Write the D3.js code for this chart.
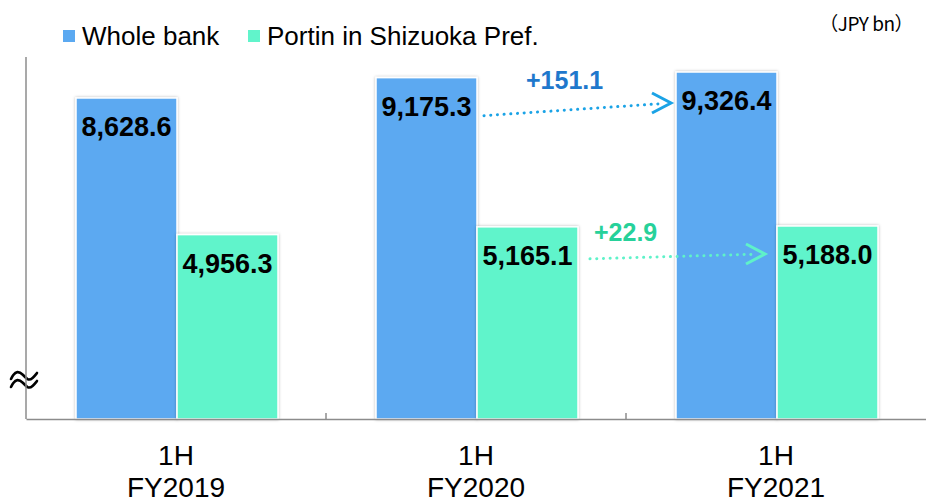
<!DOCTYPE html>
<html>
<head>
<meta charset="utf-8">
<script src="https://cdn.jsdelivr.net/npm/d3@7"></script>
<style>
  body { margin: 0; background: #fff; }
  svg { display: block; font-family: "Liberation Sans", Arial, sans-serif; }
</style>
</head>
<body>
<svg id="chart" width="926" height="500"></svg>
<script>
// data
var periods = ["FY2019", "FY2020", "FY2021"];
var periodTop = ["1H", "1H", "1H"];
var seriesNames = ["Whole bank", "Portin in Shizuoka Pref."];
var wholeBank = [8628.6, 9175.3, 9326.4];
var portin = [4956.3, 5165.1, 5188.0];
var unitLabel = "（JPY bn）";

var colors = ["#5ba9f1", "#61f4cb"];
var arrowColors = ["#1ba3e6", "#5ff2c9"];
var diffColors = ["#1f78cc", "#27d19a"];

var svg = d3.select("#chart");
var fmt = d3.format(",.1f");

// shadow for bars
var defs = svg.append("defs");
defs.append("filter")
    .attr("id", "shadow")
    .attr("x", "-10%").attr("y", "-10%")
    .attr("width", "120%").attr("height", "120%")
  .append("feDropShadow")
    .attr("dx", 0).attr("dy", 0)
    .attr("stdDeviation", 1.6)
    .attr("flood-color", "#000")
    .attr("flood-opacity", 0.28);

var x0 = d3.scaleBand().domain(periods).range([26, 926]);
var x1 = d3.scaleBand().domain([0, 1]).range([50, 252]);
var y = d3.scaleLinear().domain([0, 9730]).range([419, 57]);

var rows = periods.map(function (p, i) {
  return { period: p, values: [wholeBank[i], portin[i]] };
});

// axis break mark (drawn under the axis line)
var wave = d3.line().curve(d3.curveBasis);
[0, 8].forEach(function (off) {
  svg.append("path")
      .attr("d", wave([[11, 379 + off], [13, 375 + off], [17, 371 + off], [23, 374 + off],
                       [28, 381 + off], [33, 378 + off], [37, 373 + off]]))
      .attr("fill", "none")
      .attr("stroke", "#000")
      .attr("stroke-width", 2.6)
      .attr("stroke-linecap", "round");
});

// bars
var groups = svg.append("g").selectAll("g")
    .data(rows)
  .enter().append("g")
    .attr("transform", function (d) { return "translate(" + x0(d.period) + ",0)"; });

groups.selectAll("rect")
    .data(function (d) { return d.values.map(function (v, k) { return { k: k, v: v }; }); })
  .enter().append("rect")
    .attr("x", function (d) { return x1(d.k); })
    .attr("y", function (d) { return y(d.v); })
    .attr("width", x1.bandwidth())
    .attr("height", function (d) { return y(0) - y(d.v); })
    .attr("fill", function (d) { return colors[d.k]; })
    .attr("stroke", "#fff")
    .attr("stroke-width", 1.5)
    .attr("filter", "url(#shadow)");

groups.selectAll("text.val")
    .data(function (d) { return d.values.map(function (v, k) { return { k: k, v: v }; }); })
  .enter().append("text")
    .attr("class", "val")
    .attr("x", function (d) { return x1(d.k) + x1.bandwidth() / 2; })
    .attr("y", function (d) { return y(d.v) + 38; })
    .attr("text-anchor", "middle")
    .attr("font-size", 27)
    .attr("font-weight", "bold")
    .attr("fill", "#000")
    .text(function (d) { return fmt(d.v); });

// axes
var axisColor = "#8c8c8c";
svg.append("line")
    .attr("x1", 26).attr("x2", 26)
    .attr("y1", y.range()[1]).attr("y2", y(0))
    .attr("stroke", axisColor).attr("stroke-width", 1.5);

var xAxis = svg.append("g")
    .attr("transform", "translate(0," + y(0) + ")")
    .call(d3.axisBottom(x0).tickValues([]).tickSizeOuter(0));
xAxis.select(".domain").attr("stroke", axisColor).attr("stroke-width", 1.5);

// boundary ticks between periods
svg.append("g").selectAll("line")
    .data(periods.slice(1))
  .enter().append("line")
    .attr("x1", function (d) { return x0(d); })
    .attr("x2", function (d) { return x0(d); })
    .attr("y1", y(0) - 6).attr("y2", y(0))
    .attr("stroke", axisColor).attr("stroke-width", 1.5);

// category labels
var cat = svg.append("g").selectAll("text")
    .data(periods)
  .enter().append("text")
    .attr("x", function (d) { return x0(d) + x0.bandwidth() / 2; })
    .attr("text-anchor", "middle")
    .attr("font-size", 28)
    .attr("fill", "#000");
cat.append("tspan")
    .attr("x", function (d) { return x0(d) + x0.bandwidth() / 2; })
    .attr("y", 465)
    .text(function (d, i) { return periodTop[i]; });
cat.append("tspan")
    .attr("x", function (d) { return x0(d) + x0.bandwidth() / 2; })
    .attr("y", 497)
    .text(function (d) { return d; });

// change arrows, FY2020 -> FY2021
var from = periods[1], to = periods[2];
var arrowSpec = [
  { k: 0, v0: wholeBank[1], v1: wholeBank[2], dx0: 7, dx1: -5, dy0: 38, dy1: 31, lx: 42, ly: -27 },
  { k: 1, v0: portin[1], v1: portin[2], dx0: 12, dx1: -12, dy0: 32, dy1: 28, lx: 4, ly: -18 }
];
arrowSpec.forEach(function (a) {
  var xs = x0(from) + x1(a.k) + x1.bandwidth() + a.dx0;
  var xe = x0(to) + x1(a.k) + a.dx1;
  var ys = y(a.v0) + a.dy0;
  var ye = y(a.v1) + a.dy1;
  svg.append("line")
      .attr("x1", xs).attr("y1", ys)
      .attr("x2", xe - 8).attr("y2", ye + (ys - ye) * 8 / (xe - xs))
      .attr("stroke", arrowColors[a.k])
      .attr("stroke-width", 3)
      .attr("stroke-linecap", "round")
      .attr("stroke-dasharray", "0.1 6.6");
  svg.append("path")
      .attr("d", "M" + (xe - 19) + "," + (ye - 10) + "L" + xe + "," + ye + "L" + (xe - 19) + "," + (ye + 10))
      .attr("fill", "none")
      .attr("stroke", arrowColors[a.k])
      .attr("stroke-width", 3)
      .attr("stroke-linejoin", "miter");
  svg.append("text")
      .attr("x", xs + a.lx)
      .attr("y", ys + a.ly)
      .attr("font-size", 25)
      .attr("font-weight", "bold")
      .attr("fill", diffColors[a.k])
      .text("+" + fmt(a.v1 - a.v0));
});

// legend
var legend = svg.append("g").selectAll("g")
    .data(seriesNames)
  .enter().append("g")
    .attr("transform", function (d, i) { return "translate(" + [63, 248][i] + ",0)"; });
legend.append("rect")
    .attr("x", 0).attr("y", 30)
    .attr("width", 12).attr("height", 12)
    .attr("fill", function (d, i) { return colors[i]; });
legend.append("text")
    .attr("x", 19).attr("y", 45)
    .attr("font-size", 26)
    .attr("fill", "#000")
    .text(function (d) { return d; });

// unit
svg.append("text")
    .attr("x", 913).attr("y", 31)
    .attr("text-anchor", "end")
    .attr("font-family", "'Noto Sans CJK JP', sans-serif")
    .attr("font-size", 19)
    .attr("letter-spacing", -0.5)
    .attr("fill", "#000")
    .text(unitLabel);
</script>
</body>
</html>
